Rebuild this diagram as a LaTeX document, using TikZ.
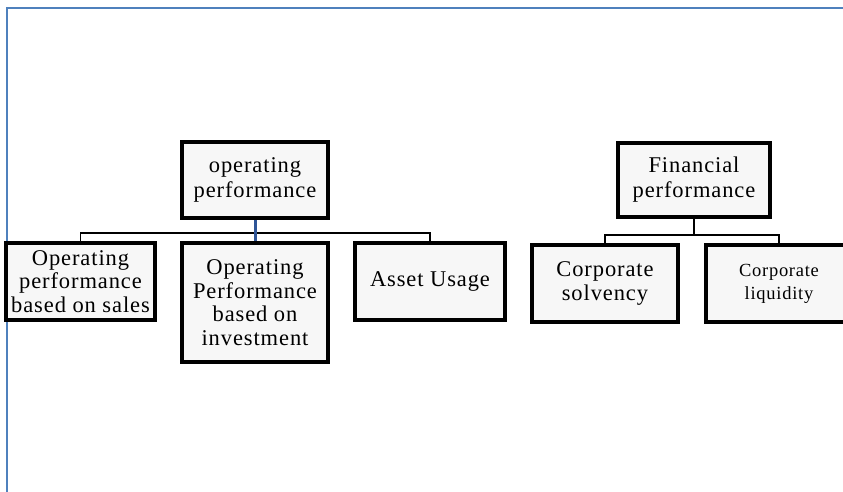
\documentclass[tikz,border=0pt]{standalone}
\usepackage{fontspec}
\setmainfont{Liberation Serif}[LetterSpace=4]
\usetikzlibrary{positioning}
\definecolor{framebl}{RGB}{79,129,189}
\definecolor{linkbl}{RGB}{47,85,151}

\begin{document}
\begin{tikzpicture}[x=1pt, y=-1pt,
        nodes = {rectangle, draw, line width=3.5pt, fill=white!97!black,
                 align=center, inner sep=2pt,
                 font=\fontsize{22.5}{23.5}\selectfont},
        wire/.style = {line width=1.5pt}]
    \useasboundingbox (0,0) rectangle (843,491);
    \draw[framebl, line width=2pt] (7,500) -- (7,8) -- (850,8);

    \node[minimum width=146pt, minimum height=76pt, font=\fontsize{22.5}{25}\selectfont] (op) at (255,180) {operating\\performance};
    \node[minimum width=149pt, minimum height=77pt] (sales) at (80.5,281.5) {Operating\\performance\\based on sales};
    \node[minimum width=146pt, minimum height=119pt] (invest) at (255,302.5) {Operating\\Performance\\based on\\investment};
    \node[minimum width=150pt, minimum height=77pt] (asset) at (430,281.5) {Asset Usage};

    \node[minimum width=152pt, minimum height=74pt, font=\fontsize{22.5}{25}\selectfont] (fin) at (694,180) {Financial\\performance};
    \node[minimum width=146pt, minimum height=77pt] (solv) at (605,283.5) {Corporate\\solvency};
    \node[minimum width=146pt, minimum height=77pt, font=\fontsize{18.5}{23}\selectfont] (liq) at (779,283.5) {Corporate\\liquidity};

    \coordinate (lbar) at (255,233);
    \coordinate (rbar) at (694,235);
    \draw[wire] (sales.north) |- (lbar) -| (asset.north);
    \draw[linkbl, line width=3pt] (op.south) -- (invest.north);
    \draw[wire] (solv.north) |- (rbar) -| (liq.north);
    \draw[wire] (fin.south) -- (rbar);
\end{tikzpicture}
\end{document}
